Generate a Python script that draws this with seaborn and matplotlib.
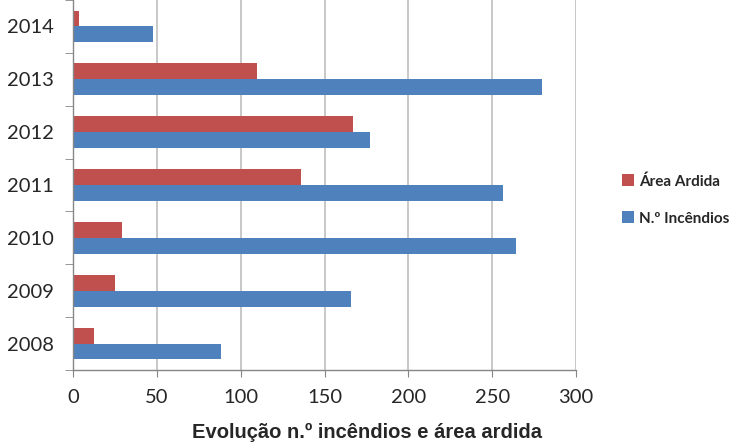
import matplotlib
matplotlib.use("Agg")
import matplotlib.pyplot as plt
import seaborn as sns
import pandas as pd
from matplotlib.patches import Patch

years = ["2014", "2013", "2012", "2011", "2010", "2009", "2008"]
area_ardida = [3.5, 110, 167, 136, 29.5, 25, 12.5]
n_incendios = [47.5, 280, 177, 256.5, 264.5, 166, 88]
series_names = ["Área Ardida", "N.º Incêndios"]
colors = ["#C0504D", "#4F81BD"]
x_ticks = [0, 50, 100, 150, 200, 250, 300]
title = "Evolução n.º incêndios e área ardida"

df = pd.DataFrame({
    "ano": years * 2,
    "serie": [series_names[0]] * len(years) + [series_names[1]] * len(years),
    "valor": area_ardida + n_incendios,
})

sns.set_style("white")
plt.rcParams["font.family"] = ["Lato", "DejaVu Sans"]

fig = plt.figure(figsize=(7.33, 4.44), dpi=100)
ax = fig.add_axes([73 / 733, 74 / 444, (576 - 73) / 733, 370 / 444])

sns.barplot(data=df, x="valor", y="ano", hue="serie", order=years,
            hue_order=series_names, palette=colors, orient="h",
            width=0.6, saturation=1, edgecolor="none", ax=ax, legend=False)

ax.set_xlim(0, 300)
ax.set_ylim(6.5, -0.35)
ax.set_xticks(x_ticks)
ax.set_xticklabels([str(t) for t in x_ticks], fontsize=14.5)
ax.set_yticks([i for i in range(len(years))])
ax.set_yticklabels(years, fontsize=14.5)
ax.set_xlabel("")
ax.set_ylabel("")
ax.xaxis.grid(True, color="#BFBFBF", linewidth=1.2)
ax.set_axisbelow(True)
for s in ["top", "right"]:
    ax.spines[s].set_visible(False)
for s in ["left", "bottom"]:
    ax.spines[s].set_color("#868686")
    ax.spines[s].set_linewidth(1)
ax.tick_params(axis="y", length=0, pad=14)
ax.tick_params(axis="x", length=5, color="#868686", pad=9, direction="out", bottom=True)
ax.set_yticks([i + 0.5 for i in range(-1, len(years))], minor=True)
ax.tick_params(axis="y", which="minor", length=6, color="#868686", left=True)

handles = [Patch(facecolor=c, edgecolor="none") for c in colors]
fig.legend(handles, series_names, loc="center left", bbox_to_anchor=(0.83, 0.55),
           frameon=False, handlelength=0.8, handleheight=0.8,
           labelspacing=1.5, handletextpad=0.3,
           prop={"family": ["Lato", "DejaVu Sans"], "weight": "bold", "size": 11})

fig.text(0.5, 0.004, title, ha="center", va="bottom", fontsize=14.5,
         fontweight="bold", family=["Liberation Sans", "DejaVu Sans"])

fig.savefig("out.png", dpi=100)
